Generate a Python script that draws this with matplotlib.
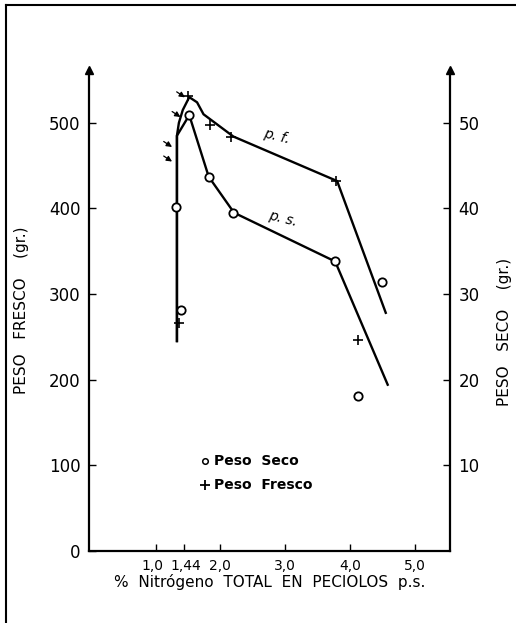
import matplotlib
matplotlib.use('Agg')
import matplotlib.pyplot as plt
import matplotlib.transforms as mtransforms
from matplotlib.lines import Line2D

# --- datos ---
# Peso fresco (gr.), eje izquierdo
pf_line_x = [1.33, 1.33, 1.36, 1.42, 1.52, 1.64, 1.74, 2.20, 3.80, 4.55]
pf_line_y = [245, 485, 500, 515, 530, 524, 510, 484, 432, 278]
pf_pts_x = [1.36, 1.50, 1.84, 2.17, 3.79, 4.12]
pf_pts_y = [266, 531, 497, 483, 432, 246]

# Peso seco (gr.), eje derecho
ps_line_x = [1.33, 1.33, 1.52, 1.82, 2.21, 3.77, 4.58]
ps_line_y = [24.5, 48.5, 50.9, 43.7, 39.5, 33.8, 19.4]
ps_pts_x = [1.31, 1.39, 1.52, 1.82, 2.20, 3.77, 4.49, 4.12]
ps_pts_y = [40.2, 28.1, 50.9, 43.7, 39.5, 33.8, 31.4, 18.1]

xticks = [1.0, 1.44, 2.0, 3.0, 4.0, 5.0]
xticklabels = ['1,0', '1,44', '2,0', '3,0', '4,0', '5,0']
yticks_fresco = [0, 100, 200, 300, 400, 500]
yticks_seco = [10, 20, 30, 40, 50]

# flechitas que senalan la curva (punta)
arrow_tips = [(1.49, 528), (1.42, 505), (1.29, 470), (1.29, 453)]

fig = plt.figure(figsize=(5.16, 6.23), dpi=100)
ax = fig.add_axes([0.172, 0.116, 0.700, 0.772])
ax2 = ax.twinx()

ax.set_xlim(-0.03, 5.54)
ax.set_ylim(0, 562)
ax2.set_ylim(0, 56.2)

ax.plot(pf_line_x, pf_line_y, color='k', lw=1.7)
ax.plot(pf_pts_x, pf_pts_y, '+', color='k', ms=7, mew=1.2)
ax2.plot(ps_line_x, ps_line_y, color='k', lw=1.7)
ax2.plot(ps_pts_x, ps_pts_y, 'o', mfc='white', mec='k', ms=6, mew=1.3)

for tx, ty in arrow_tips:
    ax.annotate('', xy=(tx, ty), xytext=(tx - 0.2, ty + 10),
                arrowprops=dict(arrowstyle='-|>', color='k', lw=0.9,
                                mutation_scale=8))

ax.text(2.86, 472, 'p. f.', fontsize=10, style='italic', rotation=-14,
        ha='center', va='bottom')
ax2.text(2.96, 37.6, 'p. s.', fontsize=10, style='italic', rotation=-14,
         ha='center', va='bottom')

# leyenda
ax.plot([1.76], [105], 'o', mfc='white', mec='k', ms=4, mew=1.1)
ax.text(1.90, 105, 'Peso  Seco', fontsize=10, fontweight='bold', va='center')
ax.plot([1.76], [77], '+', color='k', ms=7, mew=1.3)
ax.text(1.90, 77, 'Peso  Fresco', fontsize=10, fontweight='bold', va='center')

for a in (ax, ax2):
    a.spines['top'].set_visible(False)
    for s in a.spines.values():
        s.set_linewidth(1.6)
ax.spines['right'].set_visible(False)
ax2.spines['left'].set_visible(False)
ax2.spines['bottom'].set_visible(False)

ax.set_xticks(xticks)
ax.set_xticklabels(xticklabels, fontsize=10)
ax.set_yticks(yticks_fresco)
ax.set_yticklabels([str(v) for v in yticks_fresco], fontsize=12)
ax2.set_yticks(yticks_seco)
ax2.set_yticklabels([str(v) for v in yticks_seco], fontsize=12)
ax.tick_params(direction='in', length=5, width=1, pad=6)
ax2.tick_params(direction='in', length=5, width=1, pad=6)

# separar un poco las etiquetas 1,0 y 1,44
lbls = ax.get_xticklabels()
lbls[0].set_transform(lbls[0].get_transform() +
                      mtransforms.ScaledTranslation(-2 / 72, 0, fig.dpi_scale_trans))
lbls[1].set_transform(lbls[1].get_transform() +
                      mtransforms.ScaledTranslation(1.5 / 72, 0, fig.dpi_scale_trans))

# flechas en los ejes verticales
ax.plot([0, 1], [1.0, 1.0], '^', color='k', ms=6, transform=ax.transAxes,
        clip_on=False)

ax.set_ylabel('PESO   FRESCO    (gr.)', fontsize=11, labelpad=14)
ax2.set_ylabel('PESO   SECO    (gr.)', fontsize=11, labelpad=10)
ax2.yaxis.set_label_coords(1.13, 0.455)
ax.set_xlabel('%  Nitrógeno  TOTAL  EN  PECIOLOS  p.s.', fontsize=11,
              labelpad=1)

# marco de la lamina
fig.add_artist(Line2D([0.012, 0.012], [0.0, 0.992], color='k', lw=1.5))
fig.add_artist(Line2D([0.012, 1.0], [0.992, 0.992], color='k', lw=1.5))

fig.savefig('out.png', dpi=100, facecolor='white')
